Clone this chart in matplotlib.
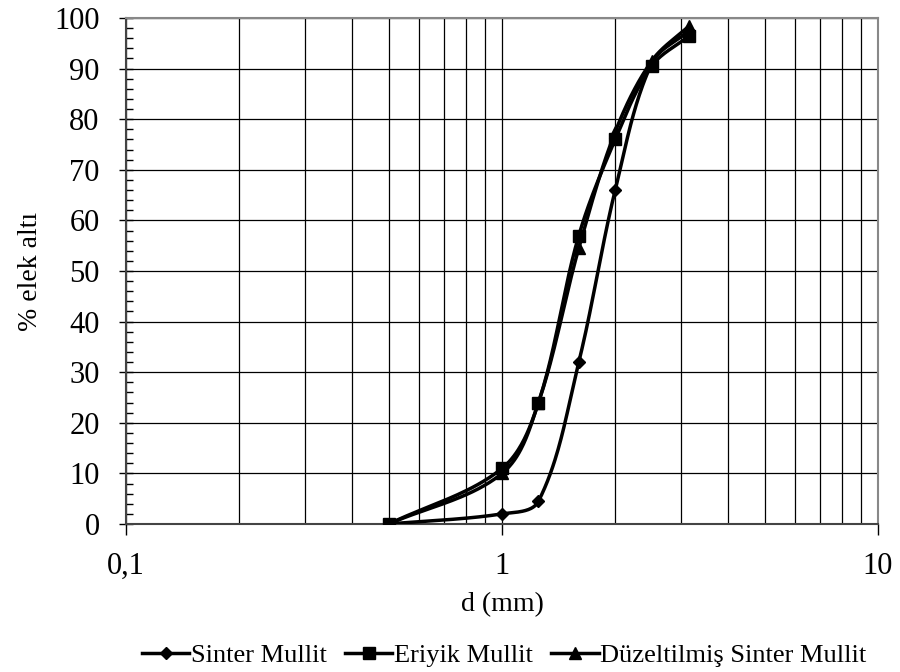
import numpy as np
import matplotlib
matplotlib.use("Agg")
import matplotlib.pyplot as plt
from matplotlib.ticker import FixedLocator, LogLocator, NullFormatter, MultipleLocator

plt.rcParams['font.family'] = ['Liberation Serif', 'DejaVu Serif']

# Sieve sizes (mm) and cumulative passing (%)
sizes = [0.5, 1.0, 1.25, 1.6, 2.0, 2.5, 3.15]
sinter = [0.0, 2.0, 4.5, 32.0, 66.0, 91.0, 97.5]
eriyik = [0.0, 11.0, 24.0, 57.0, 76.0, 90.5, 96.5]
duzeltilmis = [0.0, 10.0, 24.0, 54.5, 77.5, 91.5, 98.5]

series_names = ["Sinter Mullit", "Eriyik Mullit", "Düzeltilmiş Sinter Mullit"]
x_tick_labels = ["0,1", "1", "10"]

# Screen scale used for the smoothing (pixels per decade, pixels per %)
PX_DECADE = 376.0
PX_PERCENT = 5.06


def smooth_curve(x, y, n=40):
    """Bezier smoothing through the points, computed in screen proportions."""
    lx = np.log10(np.asarray(x, float)) * PX_DECADE
    yy = np.asarray(y, float) * PX_PERCENT
    pts = np.column_stack([lx, yy])
    out = []
    m = len(pts)
    for i in range(m - 1):
        p0 = pts[i - 1] if i > 0 else pts[i]
        p1 = pts[i]
        p2 = pts[i + 1]
        p3 = pts[i + 2] if i + 2 < m else pts[i + 1]
        # tangents scaled to the adjacent segment length to limit overshoot
        d12 = np.linalg.norm(p2 - p1)
        t1 = p2 - p0
        t2 = p3 - p1
        n1 = np.linalg.norm(t1)
        n2 = np.linalg.norm(t2)
        c1 = p1 + (t1 / n1 if n1 else t1) * d12 / 3.0
        c2 = p2 - (t2 / n2 if n2 else t2) * d12 / 3.0
        t = np.linspace(0, 1, n)[:, None]
        seg = ((1 - t) ** 3) * p1 + 3 * ((1 - t) ** 2) * t * c1 + 3 * (1 - t) * t ** 2 * c2 + t ** 3 * p2
        out.append(seg if i == 0 else seg[1:])
    curve = np.vstack(out)
    return 10 ** (curve[:, 0] / PX_DECADE), curve[:, 1] / PX_PERCENT


fig = plt.figure(figsize=(9, 6.72), dpi=100)
ax = fig.add_axes([0.14, 0.2202, 0.8356, 0.7530])

ax.set_xscale('log')
ax.set_xlim(0.1, 10)
ax.set_ylim(0, 100)

markers = ['D', 's', '^']
msizes = [6, 8, 8]
for vals, name, mk, ms in zip([sinter, eriyik, duzeltilmis], series_names, markers, msizes):
    sx, sy = smooth_curve(sizes, vals)
    ax.plot(sx, sy, color='black', lw=2.5, zorder=3)
    ax.plot(sizes, vals, linestyle='none', marker=mk, markersize=ms,
            color='black', zorder=4)
    ax.plot([], [], color='black', lw=2.5, marker=mk, markersize=ms, label=name)

# Grid
ax.xaxis.set_major_locator(FixedLocator([0.1, 1, 10]))
ax.xaxis.set_minor_locator(LogLocator(base=10, subs=np.arange(2, 10)))
ax.xaxis.set_minor_formatter(NullFormatter())
ax.set_xticklabels(x_tick_labels)
ax.yaxis.set_major_locator(MultipleLocator(10))
ax.yaxis.set_minor_locator(MultipleLocator(2))
ax.grid(True, which='major', color='black', lw=0.9)
ax.grid(True, which='minor', axis='x', color='black', lw=0.9)

ax.tick_params(axis='y', which='major', direction='inout', length=10, width=1, labelsize=22, pad=14)
ax.tick_params(axis='y', which='minor', direction='in', length=5, width=1)
ax.tick_params(axis='x', which='major', direction='out', length=8, width=1, labelsize=22, pad=12)
ax.tick_params(axis='x', which='minor', length=0)

for side in ['left', 'bottom']:
    ax.spines[side].set_color('#444444')
    ax.spines[side].set_linewidth(1.5)
for side in ['top', 'right']:
    ax.spines[side].set_color('#888888')
    ax.spines[side].set_linewidth(1.5)

ax.set_xlabel("d (mm)", fontsize=20, labelpad=8)
ax.set_ylabel("% elek altı", fontsize=20, labelpad=8)

fig.legend(loc='center', bbox_to_anchor=(0.56, 0.025), ncol=3, frameon=False,
           fontsize=19, handlelength=1.8, handletextpad=0.05, columnspacing=0.7)

fig.savefig("out.png", dpi=100)
